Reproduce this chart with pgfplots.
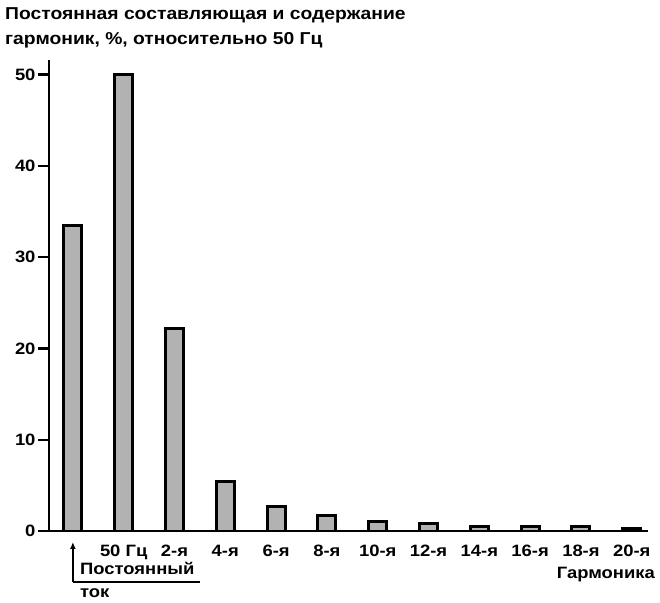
\documentclass[border=0pt]{standalone}
\usepackage{fontspec}
\setmainfont{Liberation Sans}[FakeStretch=1.12]
\usepackage{pgfplots}
\pgfplotsset{compat=1.18}
\usetikzlibrary{arrows.meta}
\begin{document}
\begin{tikzpicture}[x=1bp,y=1bp]
\begin{axis}[
  at={(0,0)}, anchor=south west,
  scale only axis, width=599bp, height=471bp,
  xmin=-0.47, xmax=11.32, ymin=0, ymax=51.6,
  axis lines=left,
  axis line style={line width=2.3pt,-},
  /pgf/number format/assume math mode=true,
  ticklabel style={font=\fontsize{16.5}{16.5}\selectfont\bfseries},
  ytick={0,10,20,30,40,50},
  tick align=outside,
  major tick length=11bp,
  ytick style={line width=2.3pt,black},
  yticklabel style={xshift=1bp},
  xtick={0,1,2,3,4,5,6,7,8,9,10,11},
  xticklabels={,50 Гц,2-я,4-я,6-я,8-я,10-я,12-я,14-я,16-я,18-я,20-я},
  xtick style={draw=none},
  xticklabel style={yshift=0bp},
  ybar, bar width=18bp,
  clip=false,
]
\addplot[fill=gray!60, draw=black, line width=3pt] coordinates {
  (0,33.5) (1,50) (2,22.2) (3,5.4) (4,2.7) (5,1.7) (6,1.0) (7,0.78) (8,0.5) (9,0.5) (10,0.5) (11,0.3)};
\draw[line width=1.6pt,-{Latex[length=7bp,width=6bp]}] (axis cs:0,-5.6) -- (axis cs:0,-1.2);
\draw[line width=1.6pt] (axis cs:0,-5.6) -- (axis cs:2.5,-5.6);
\end{axis}
\node[anchor=west,inner sep=0,font=\fontsize{16.5}{16.5}\selectfont\bfseries] at (31,-37) {Постоянный};
\node[anchor=west,inner sep=0,font=\fontsize{16.5}{16.5}\selectfont\bfseries] at (31,-62) {ток};
\node[anchor=east,inner sep=0,font=\fontsize{16.5}{16.5}\selectfont\bfseries] at (606,-44) {Гармоника};
\node[anchor=west,inner sep=0,font=\fontsize{17.3}{17.3}\selectfont\bfseries] at (-44,516) {Постоянная составляющая и содержание};
\node[anchor=west,inner sep=0,font=\fontsize{17.3}{17.3}\selectfont\bfseries] at (-44,491) {гармоник, \%, относительно 50 Гц};
\useasboundingbox (-49,-72) rectangle (611,531);
\end{tikzpicture}
\end{document}
